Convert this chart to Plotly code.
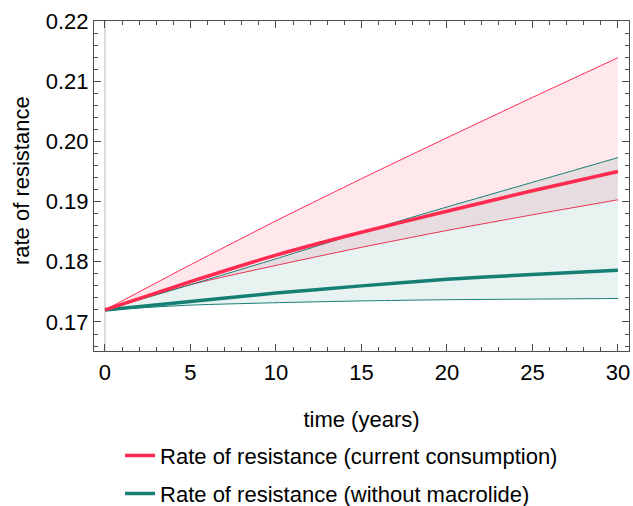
import plotly.graph_objects as go

# time (years)
t = [0, 5, 10, 15, 20, 25, 30]

# current consumption
red_mean = [0.172, 0.1767, 0.1811, 0.1849, 0.1884, 0.1918, 0.1950]
red_upper = [0.172, 0.1795, 0.1868, 0.1938, 0.2006, 0.2073, 0.2139]
red_lower = [0.172, 0.1762, 0.1794, 0.1824, 0.1852, 0.1878, 0.1903]

# without macrolide
teal_mean = [0.172, 0.1734, 0.1748, 0.1760, 0.1771, 0.1779, 0.1786]
teal_upper = [0.172, 0.1762, 0.1805, 0.1849, 0.1891, 0.1932, 0.1973]
teal_lower = [0.172, 0.1728, 0.1732, 0.1735, 0.1737, 0.1738, 0.1739]

names = ["Rate of resistance (current consumption)",
         "Rate of resistance (without macrolide)"]

RED = "#FF2A50"
TEAL = "#167F73"
RED_FILL = "rgba(255,42,80,0.11)"
TEAL_FILL = "rgba(22,127,115,0.10)"
FONT = "Liberation Sans, Arial, Helvetica, sans-serif"
FS = 22

fig = go.Figure()
line_shape = dict(shape="spline", smoothing=0.6)

fig.add_trace(go.Scatter(x=t, y=red_lower, mode="lines",
                         line=dict(color=RED, width=1, **line_shape),
                         showlegend=False, hoverinfo="skip"))
fig.add_trace(go.Scatter(x=t, y=red_upper, mode="lines", fill="tonexty",
                         fillcolor=RED_FILL,
                         line=dict(color=RED, width=1, **line_shape),
                         showlegend=False, hoverinfo="skip"))
fig.add_trace(go.Scatter(x=t, y=teal_lower, mode="lines",
                         line=dict(color=TEAL, width=1, **line_shape),
                         showlegend=False, hoverinfo="skip"))
fig.add_trace(go.Scatter(x=t, y=teal_upper, mode="lines", fill="tonexty",
                         fillcolor=TEAL_FILL,
                         line=dict(color=TEAL, width=1, **line_shape),
                         showlegend=False, hoverinfo="skip"))
fig.add_trace(go.Scatter(x=t, y=teal_mean, mode="lines", name=names[1],
                         line=dict(color=TEAL, width=3.5, **line_shape),
                         legend="legend2"))
fig.add_trace(go.Scatter(x=t, y=red_mean, mode="lines", name=names[0],
                         line=dict(color=RED, width=3.5, **line_shape),
                         legend="legend"))

axis_common = dict(
    showgrid=False, automargin=False,
    showline=True, linecolor="#4d4d4d", linewidth=1, mirror="ticks",
    ticks="inside", ticklen=7, tickwidth=1, tickcolor="#4d4d4d",
    tickfont=dict(family=FONT, size=FS, color="black"),
)

fig.update_xaxes(
    range=[-0.643, 30.65], tick0=0, dtick=5,
    zeroline=True, zerolinecolor="#DCDCDC", zerolinewidth=1.5,
    ticklabelstandoff=2,
    minor=dict(ticks="inside", ticklen=4, dtick=1, tickcolor="#4d4d4d", showgrid=False),
    title=dict(text="time (years)", font=dict(family=FONT, size=FS, color="black"), standoff=27),
    **axis_common,
)
fig.update_yaxes(
    range=[0.16518, 0.22], tick0=0.17, dtick=0.01, tickformat=".2f",
    zeroline=False,
    minor=dict(ticks="inside", ticklen=4, dtick=0.002, tickcolor="#4d4d4d", showgrid=False),
    **axis_common,
)

fig.add_annotation(text="rate of resistance", textangle=-90,
                   xref="paper", yref="paper", x=-0.1364, y=0.515,
                   xanchor="center", yanchor="middle", showarrow=False,
                   font=dict(family=FONT, size=FS, color="black"))

legend_common = dict(font=dict(family=FONT, size=FS, color="black"),
                     bgcolor="rgba(0,0,0,0)", borderwidth=0,
                     xanchor="left", yanchor="middle", x=0.0487)

fig.update_layout(
    width=633, height=506,
    margin=dict(l=94, r=4, t=21, b=155, autoexpand=False),
    paper_bgcolor="white", plot_bgcolor="white",
    font=dict(family=FONT, size=FS, color="black"),
    legend=dict(y=-0.3175, **legend_common),
    legend2=dict(y=-0.4325, **legend_common),
)

fig.write_html("out.html", config={"displayModeBar": False},
               post_script="document.body.style.margin='0';document.body.style.overflow='hidden';")
